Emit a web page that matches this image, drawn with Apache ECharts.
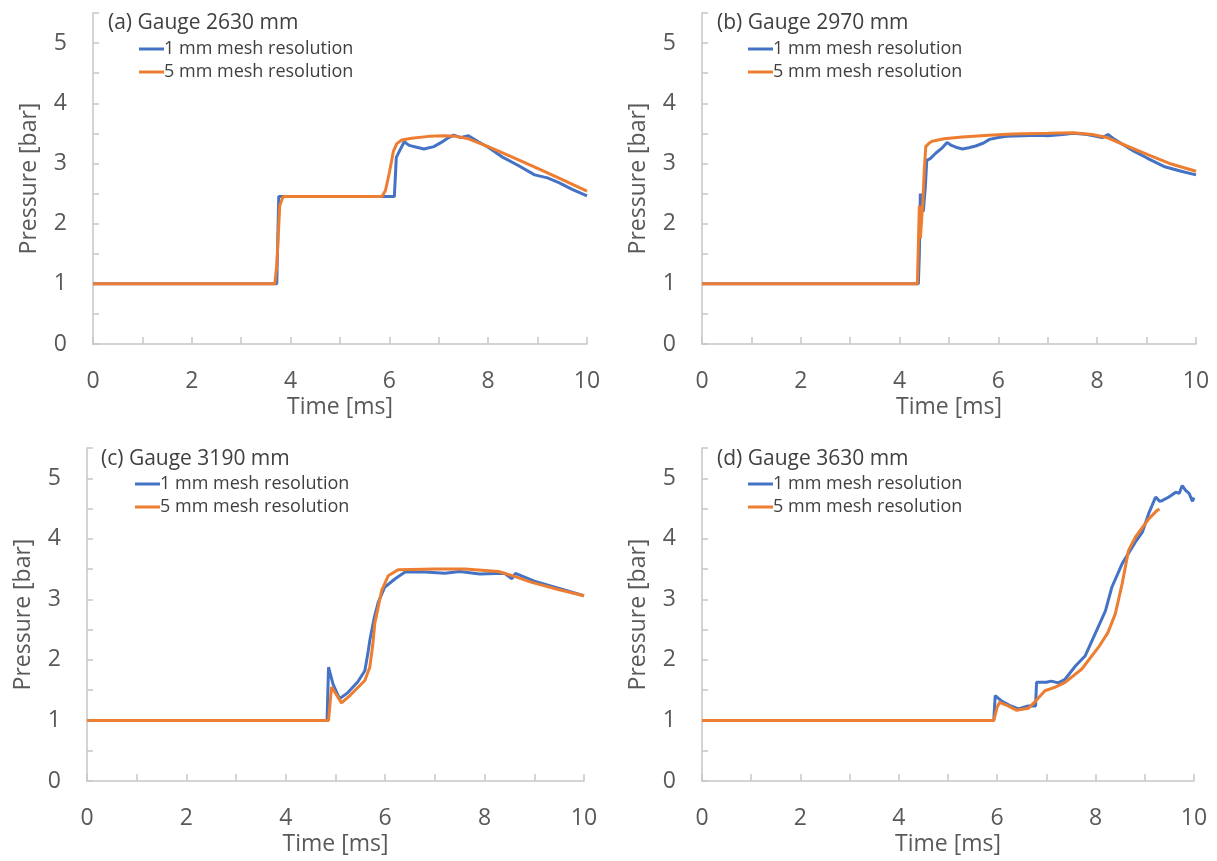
<!DOCTYPE html>
<html>
<head>
<meta charset="utf-8">
<script src="https://cdn.jsdelivr.net/npm/echarts@6/dist/echarts.min.js"></script>
<style>
html,body{margin:0;padding:0;background:#fff;}
#chart{width:1217px;height:861px;}
</style>
</head>
<body>
<div id="chart"></div>
<script>
// Panel titles and series names
const panelTitles = ['(a) Gauge 2630 mm', '(b) Gauge 2970 mm', '(c) Gauge 3190 mm', '(d) Gauge 3630 mm'];
const seriesNames = ['1 mm mesh resolution', '5 mm mesh resolution'];
const xTicks = [0, 2, 4, 6, 8, 10];
const yTicks = [0, 1, 2, 3, 4, 5];

// (a) Gauge 2630 mm  [time ms, pressure bar]
const a1mm = [[0,1],[3.72,1],[3.76,2.45],[6.1,2.45],[6.14,3.1],[6.2,3.2],[6.3,3.36],[6.4,3.3],[6.55,3.27],[6.7,3.24],[6.9,3.28],[7.05,3.35],[7.2,3.43],[7.3,3.47],[7.45,3.43],[7.6,3.46],[7.8,3.36],[8.0,3.27],[8.3,3.1],[8.6,2.97],[8.94,2.81],[9.2,2.76],[9.43,2.68],[9.7,2.57],[10,2.46]];
const a5mm = [[0,1],[3.68,1],[3.72,1.3],[3.78,2.3],[3.85,2.45],[5.85,2.45],[5.92,2.55],[6.0,2.85],[6.08,3.2],[6.15,3.33],[6.25,3.39],[6.45,3.42],[6.8,3.45],[7.1,3.46],[7.35,3.45],[7.6,3.41],[8.0,3.28],[8.5,3.1],[9.0,2.92],[9.5,2.73],[10,2.54]];

// (b) Gauge 2970 mm
const b1mm = [[0,1],[4.38,1],[4.4,1.5],[4.42,2.5],[4.44,2.1],[4.46,2.5],[4.48,2.2],[4.52,2.6],[4.55,3.05],[4.62,3.08],[4.73,3.17],[4.85,3.25],[4.96,3.35],[5.05,3.3],[5.14,3.27],[5.27,3.24],[5.4,3.26],[5.54,3.29],[5.7,3.34],[5.82,3.4],[6.0,3.43],[6.16,3.45],[6.5,3.46],[6.8,3.47],[7.0,3.46],[7.3,3.48],[7.52,3.5],[7.8,3.48],[8.1,3.43],[8.22,3.48],[8.35,3.4],[8.47,3.34],[8.75,3.2],[9.01,3.09],[9.35,2.95],[9.7,2.87],[10,2.81]];
const b5mm = [[0,1],[4.36,1],[4.4,2.3],[4.42,1.75],[4.47,2.35],[4.5,2.9],[4.53,3.28],[4.6,3.34],[4.66,3.37],[4.9,3.41],[5.27,3.44],[5.8,3.47],[6.29,3.49],[7.0,3.5],[7.52,3.51],[7.9,3.48],[8.2,3.43],[8.6,3.29],[9.01,3.15],[9.5,2.99],[10,2.87]];

// (c) Gauge 3190 mm
const c1mm = [[0,1],[4.83,1],[4.86,1.88],[4.95,1.6],[5.08,1.36],[5.25,1.46],[5.45,1.64],[5.59,1.82],[5.65,2.1],[5.69,2.32],[5.78,2.7],[5.86,2.95],[5.99,3.2],[6.2,3.34],[6.4,3.45],[6.8,3.45],[7.2,3.43],[7.5,3.46],[7.9,3.42],[8.4,3.43],[8.55,3.34],[8.62,3.43],[9.0,3.3],[9.5,3.18],[10,3.06]];
const c5mm = [[0,1],[4.86,1],[4.92,1.55],[5.0,1.45],[5.12,1.29],[5.3,1.42],[5.59,1.66],[5.69,1.88],[5.75,2.25],[5.79,2.6],[5.93,3.15],[6.06,3.39],[6.26,3.49],[7.0,3.5],[7.61,3.5],[8.28,3.46],[8.6,3.38],[8.95,3.28],[9.5,3.16],[10,3.06]];

// (d) Gauge 3630 mm
const d1mm = [[0,1],[5.93,1],[5.96,1.41],[6.09,1.32],[6.25,1.25],[6.43,1.19],[6.63,1.24],[6.78,1.24],[6.8,1.63],[7.0,1.63],[7.1,1.65],[7.24,1.62],[7.38,1.68],[7.59,1.9],[7.79,2.07],[7.99,2.43],[8.2,2.81],[8.33,3.2],[8.54,3.59],[8.81,3.95],[8.95,4.11],[9.08,4.42],[9.22,4.69],[9.3,4.62],[9.35,4.63],[9.49,4.69],[9.63,4.77],[9.7,4.75],[9.76,4.88],[9.83,4.8],[9.9,4.75],[9.97,4.62],[10,4.68]];
const d5mm = [[0,1],[5.93,1],[6.0,1.22],[6.05,1.3],[6.2,1.25],[6.39,1.17],[6.63,1.2],[6.78,1.32],[6.97,1.49],[7.18,1.55],[7.38,1.63],[7.72,1.85],[8.06,2.21],[8.25,2.45],[8.4,2.76],[8.54,3.26],[8.67,3.81],[8.81,4.03],[9.08,4.33],[9.25,4.47],[9.3,4.49]];

const panelData = [[a1mm, a5mm], [b1mm, b5mm], [c1mm, c5mm], [d1mm, d5mm]];
const colors = ['#4472C4', '#ED7D31'];
const FONT = '"Open Sans", sans-serif';

const grids = [
  {left: 93, top: 13, width: 494, height: 331},
  {left: 702, top: 13, width: 494, height: 331},
  {left: 87, top: 448, width: 497, height: 333},
  {left: 702, top: 448, width: 492, height: 333}
];

const axisLineStyle = {color: '#c6c6c6', width: 1.5};
const xAxes = grids.map((g, i) => ({
  type: 'value', gridIndex: i, min: 0, max: 10, interval: 1,
  name: 'Time [ms]', nameLocation: 'middle', nameGap: 52,
  nameTextStyle: {fontSize: 23, color: '#595959', fontFamily: FONT},
  axisLine: {show: true, lineStyle: axisLineStyle},
  axisTick: {show: true, inside: true, length: 7, lineStyle: axisLineStyle},
  splitLine: {show: false},
  axisLabel: {
    margin: 26, fontSize: 23, color: '#595959', fontFamily: FONT,
    formatter: v => xTicks.includes(v) ? String(v) : ''
  }
}));
const yAxes = grids.map((g, i) => ({
  type: 'value', gridIndex: i, min: 0, max: 5.5, interval: 0.5,
  name: 'Pressure [bar]', nameLocation: 'middle', nameGap: 52,
  nameTextStyle: {fontSize: 23, color: '#595959', fontFamily: FONT},
  axisLine: {show: true, lineStyle: axisLineStyle},
  axisTick: {show: true, inside: true, length: 6, lineStyle: axisLineStyle},
  splitLine: {show: false},
  axisLabel: {
    margin: 26, fontSize: 23, color: '#595959', fontFamily: FONT,
    formatter: v => yTicks.includes(v) ? String(v) : ''
  }
}));

const series = [];
panelData.forEach((pair, i) => {
  pair.forEach((d, k) => {
    series.push({
      name: seriesNames[k], type: 'line', xAxisIndex: i, yAxisIndex: i,
      data: d, showSymbol: false, symbol: 'none', smooth: false,
      lineStyle: {color: colors[k], width: 3},
      itemStyle: {color: colors[k]},
      animation: false, z: 2 + k
    });
  });
});

const titlePos = [[108, 13], [717, 13], [101, 449], [717, 449]];
const legendPos = [[139, 40], [748, 40], [135, 475], [748, 475]];

const titles = panelTitles.map((t, i) => ({
  text: t, left: titlePos[i][0], top: titlePos[i][1], padding: 0,
  textStyle: {fontSize: 21, fontWeight: 'normal', color: '#404040', fontFamily: FONT}
}));
const legends = legendPos.map(p => ({
  data: seriesNames, left: p[0], top: p[1], orient: 'vertical', padding: 0,
  itemWidth: 25, itemHeight: 3, itemGap: 5, icon: 'rect',
  textStyle: {fontSize: 18, color: '#404040', fontFamily: FONT, padding: [0, 0, 0, -5]},
  selectedMode: false
}));

const chart = echarts.init(document.getElementById('chart'), null, {renderer: 'canvas'});
chart.setOption({
  backgroundColor: '#ffffff',
  animation: false,
  title: titles,
  legend: legends,
  grid: grids,
  xAxis: xAxes,
  yAxis: yAxes,
  series: series
});
</script>
</body>
</html>
